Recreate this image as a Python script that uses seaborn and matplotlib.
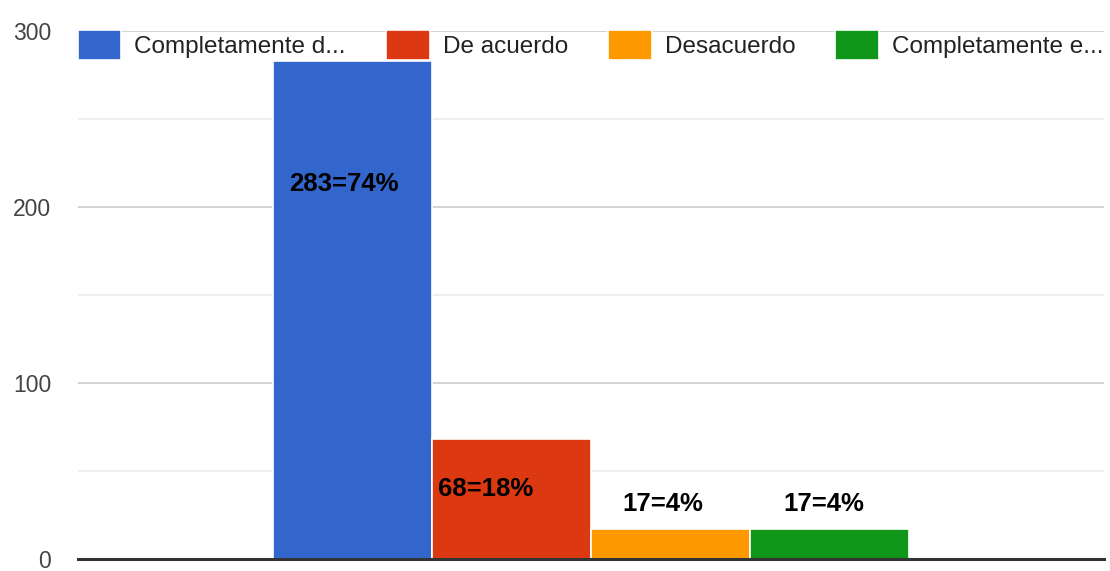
"""Bar chart of survey answers (Google Forms style)."""

import matplotlib
matplotlib.use("Agg")
import matplotlib.pyplot as plt
import pandas as pd
import seaborn as sns
from matplotlib.ticker import MultipleLocator

# data
respuestas = ["Completamente d...", "De acuerdo", "Desacuerdo", "Completamente e..."]
cantidades = [283, 68, 17, 17]
etiquetas = ["283=74%", "68=18%", "17=4%", "17=4%"]
colores = ["#3366cc", "#dc3912", "#ff9900", "#109618"]

# label placement relative to bar top/centre
label_dy = [-70, -28, 14, 14]
label_dx = [-0.008, -0.025, -0.008, -0.006]

df = pd.DataFrame({"grupo": [""] * len(respuestas),
                   "respuesta": respuestas,
                   "valor": cantidades})

sns.set_style("white")
plt.rcParams["font.family"] = ["Liberation Sans", "DejaVu Sans"]

fig = plt.figure(figsize=(11.1, 5.71), dpi=100)
ax = fig.add_axes([0.07, 0.021, 0.925, 0.925])

sns.barplot(data=df, x="grupo", y="valor", hue="respuesta", hue_order=respuestas,
            palette=colores, width=0.62, edgecolor="white", linewidth=1.2,
            saturation=1, ax=ax)

ax.set_ylim(0, 300)
ax.set_xlim(-0.5, 0.5)
ax.yaxis.set_major_locator(MultipleLocator(100))
ax.yaxis.set_minor_locator(MultipleLocator(50))
ax.grid(axis="y", which="major", color="#cccccc", linewidth=1.2, zorder=0)
ax.grid(axis="y", which="minor", color="#ebebeb", linewidth=1.2, zorder=0)
ax.set_axisbelow(True)
for s in ["top", "right", "left"]:
    ax.spines[s].set_visible(False)
ax.spines["bottom"].set_color("#333333")
ax.spines["bottom"].set_linewidth(2.2)
ax.set_xlabel("")
ax.set_ylabel("")
ax.set_xticks([])
ax.tick_params(axis="y", which="both", length=0, pad=19, labelsize=16.5, labelcolor="#444444")

# value labels
for bar, txt, dy, dx in zip(ax.patches, etiquetas, label_dy, label_dx):
    cx = bar.get_x() + bar.get_width() / 2 + dx
    ax.text(cx, bar.get_height() + dy, txt, ha="center", va="center",
            fontsize=18.5, fontweight="bold", color="black")

handles, labels = ax.get_legend_handles_labels()
ax.legend(handles, labels, loc="center left", bbox_to_anchor=(0.0, 0.973),
          ncol=4, frameon=False, fontsize=17.5, handlelength=1.8, handleheight=1.5,
          handletextpad=0.53, columnspacing=1.65, borderpad=0, borderaxespad=0,
          labelcolor="#222222")

plt.savefig("out.png", dpi=100)
